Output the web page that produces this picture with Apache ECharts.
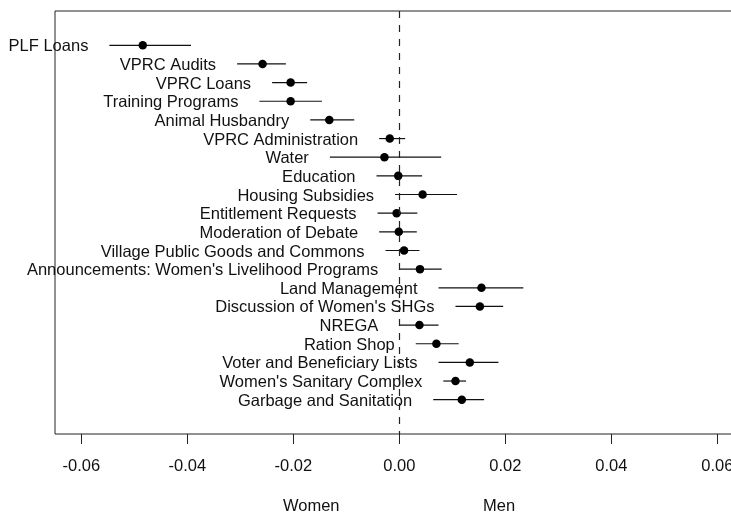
<!DOCTYPE html>
<html>
<head>
<meta charset="utf-8">
<script src="https://cdn.jsdelivr.net/npm/echarts@6/dist/echarts.min.js"></script>
<style>
  html, body { margin: 0; padding: 0; overflow: hidden; background: #fff; }
  #main { width: 750px; height: 514px; }
</style>
</head>
<body>
<div id="main"></div>
<script>
// topics, top to bottom
const categories = [
  'PLF Loans', 'VPRC Audits', 'VPRC Loans', 'Training Programs', 'Animal Husbandry',
  'VPRC Administration', 'Water', 'Education', 'Housing Subsidies', 'Entitlement Requests',
  'Moderation of Debate', 'Village Public Goods and Commons',
  "Announcements: Women's Livelihood Programs", 'Land Management',
  "Discussion of Women's SHGs", 'NREGA', 'Ration Shop', 'Voter and Beneficiary Lists',
  "Women's Sanitary Complex", 'Garbage and Sanitation'
];
// point estimates
const estimates = [-0.0484, -0.0258, -0.0205, -0.0205, -0.0132, -0.0018, -0.0028, -0.0002, 0.0044, -0.0005,
  -0.0001, 0.0009, 0.0039, 0.0155, 0.0152, 0.0038, 0.0070, 0.0133, 0.0106, 0.0118];
// interval ends
const lower = [-0.0547, -0.0306, -0.0240, -0.0264, -0.0168, -0.0038, -0.0131, -0.0043, -0.0008, -0.0041,
  -0.0038, -0.0026, 0.0000, 0.0074, 0.0106, 0.0000, 0.0031, 0.0074, 0.0083, 0.0064];
const upper = [-0.0393, -0.0214, -0.0174, -0.0146, -0.0085, 0.0011, 0.0079, 0.0043, 0.0109, 0.0034,
  0.0033, 0.0038, 0.0080, 0.0234, 0.0196, 0.0074, 0.0112, 0.0187, 0.0126, 0.0160];
// x tick labels
const xTicks = [-0.06, -0.04, -0.02, 0.00, 0.02, 0.04, 0.06];

const FONT = '"Liberation Sans", Arial, Helvetica, sans-serif';
const INK = '#111';

const rows = categories.map((c, i) => [lower[i], upper[i], i + 1, estimates[i], c]);
const points = categories.map((c, i) => [estimates[i], i + 1]);

const chart = echarts.init(document.getElementById('main'), null, { renderer: 'canvas' });

chart.setOption({
  animation: false,
  grid: {
    left: 55, right: 6.4, top: 11, bottom: 80,
    show: true, borderColor: '#222', borderWidth: 1, backgroundColor: 'transparent'
  },
  xAxis: {
    type: 'value',
    position: 'bottom',
    min: -0.06496, max: 0.06496,
    axisLine: { show: false, onZero: false },
    splitLine: { show: false },
    axisTick: { show: true, customValues: xTicks, length: 10, inside: false, lineStyle: { color: '#222', width: 1 } },
    axisLabel: {
      customValues: xTicks, margin: 24, color: INK, fontSize: 16.5, fontFamily: FONT,
      formatter: v => v.toFixed(2)
    }
  },
  yAxis: {
    type: 'value', inverse: true, min: -0.84, max: 21.84,
    show: false, splitLine: { show: false }
  },
  graphic: [
    { type: 'text', left: 283, top: 498, style: { text: 'Women', fill: INK, fontSize: 16.5, fontFamily: FONT } },
    { type: 'text', left: 483, top: 498, style: { text: 'Men', fill: INK, fontSize: 16.5, fontFamily: FONT } }
  ],
  series: [
    {
      type: 'custom',
      data: rows,
      encode: { x: [0, 1], y: 2 },
      renderItem: function (params, api) {
        const lo = api.coord([api.value(0), api.value(2)]);
        const hi = api.coord([api.value(1), api.value(2)]);
        return {
          type: 'group',
          children: [
            {
              type: 'line',
              shape: { x1: lo[0], y1: lo[1], x2: hi[0], y2: hi[1] },
              style: { stroke: INK, lineWidth: 1.2 }
            },
            {
              type: 'text',
              x: lo[0] - 21, y: lo[1] + 1.5,
              style: {
                text: api.value(4), fill: INK, fontSize: 16.5, fontFamily: FONT,
                align: 'right', verticalAlign: 'middle'
              }
            }
          ]
        };
      },
      markLine: {
        silent: true, symbol: 'none', label: { show: false },
        lineStyle: { color: '#222', type: [7, 7], width: 1.2 },
        data: [{ xAxis: 0 }]
      },
      z: 2
    },
    {
      type: 'scatter',
      data: points,
      symbol: 'circle',
      symbolSize: 8.5,
      itemStyle: { color: '#000', opacity: 1 },
      z: 3
    }
  ]
});
</script>
</body>
</html>
